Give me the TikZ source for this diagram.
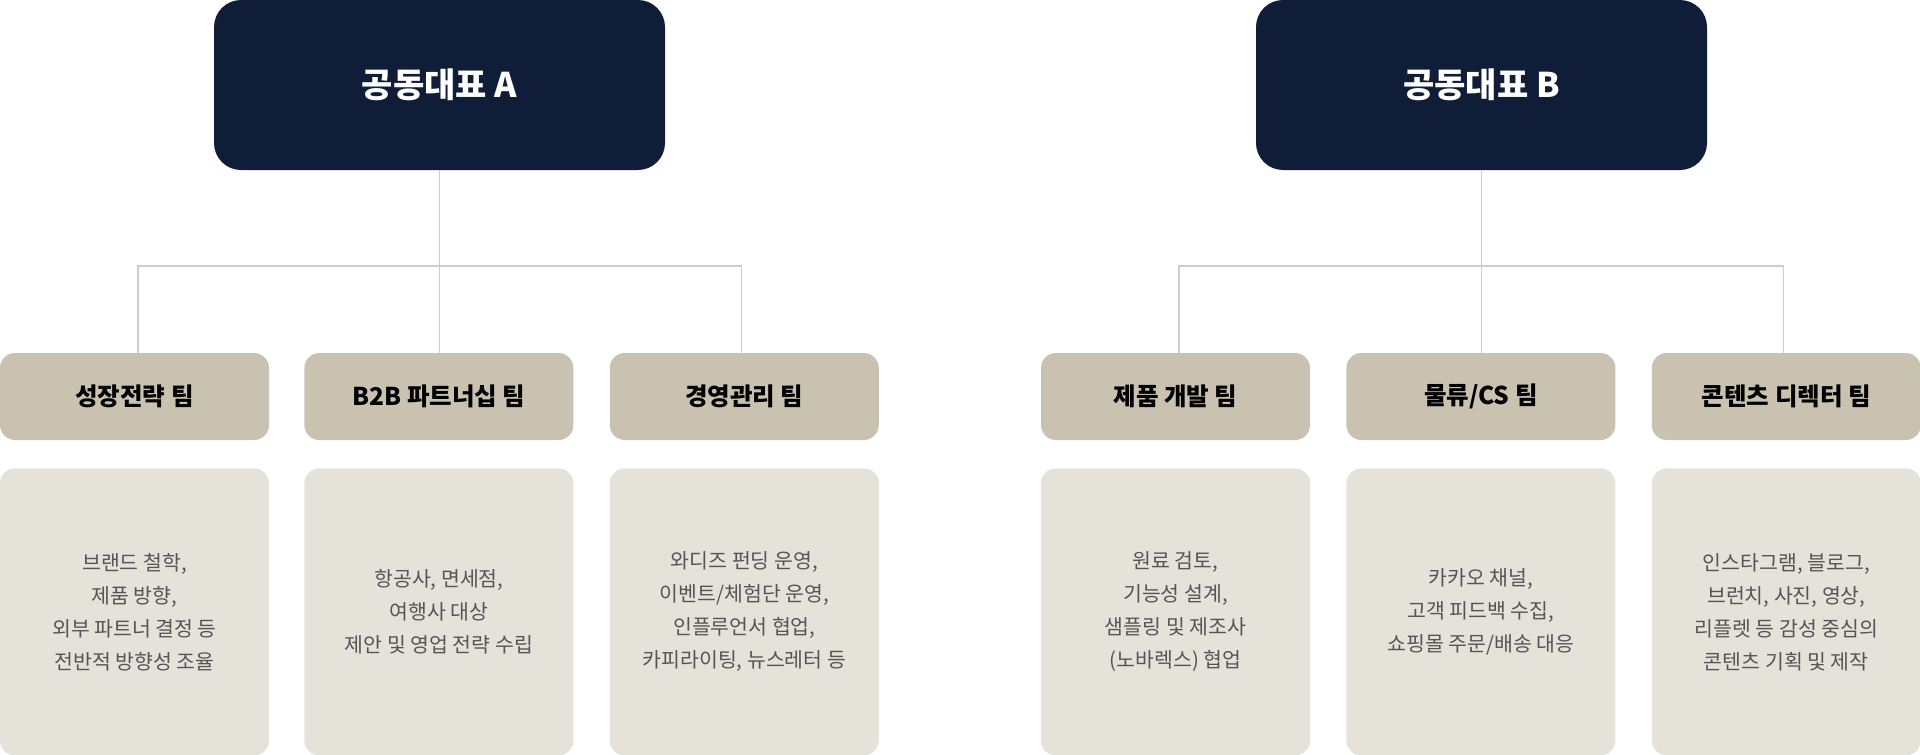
\documentclass[tikz,border=0pt]{standalone}
\usepackage{fontspec}
\setmainfont{Noto Sans CJK KR}
\usetikzlibrary{positioning}

\definecolor{navy}{HTML}{0F1D38}
\definecolor{teamfill}{HTML}{C9C2B1}
\definecolor{descfill}{HTML}{E5E2DA}
\definecolor{desctext}{HTML}{555555}
\definecolor{linegray}{HTML}{CCCCCC}

\begin{document}
\begin{tikzpicture}[x=1pt, y=1pt,
  head/.style={fill=navy, rounded corners=27pt, minimum width=451pt, minimum height=170pt, inner sep=0pt,
    text=white, font=\fontsize{34}{40}\selectfont\bfseries},
  team/.style={fill=teamfill, rounded corners=15pt, minimum width=269pt, minimum height=87pt, inner sep=0pt,
    font=\fontsize{24.5}{30}\selectfont\bfseries},
  desc/.style={fill=descfill, rounded corners=15pt, minimum width=269pt, minimum height=287pt, inner sep=0pt,
    align=center, text=desctext, font=\fontsize{20.5}{33}\selectfont},
  conn/.style={draw=linegray, line width=1.3pt}]
  \useasboundingbox (0,0) rectangle (1920,-755);

  % co-CEO A side
  \node[head] (ceoA) at (439.5,-85) {공동대표 A};
  \node[team] (growth) at (134.5,-396.5) {성장전략 팀};
  \node[team, right=35pt of growth] (btob) {B2B 파트너십 팀};
  \node[team, right=36pt of btob] (manage) {경영관리 팀};
  \node[desc, below=28pt of growth] (growthd) {브랜드 철학,\\제품 방향,\\외부 파트너 결정 등\\전반적 방향성 조율};
  \node[desc, below=28pt of btob] (btobd) {항공사, 면세점,\\여행사 대상\\제안 및 영업 전략 수립};
  \node[desc, below=28pt of manage] (manaed) {와디즈 펀딩 운영,\\이벤트/체험단 운영,\\인플루언서 협업,\\카피라이팅, 뉴스레터 등};
  \coordinate (busA) at (0,-266);

  % co-CEO B side
  \node[head] (ceoB) at (1481.5,-85) {공동대표 B};
  \node[team] (product) at (1175.5,-396.5) {제품 개발 팀};
  \node[team, right=36pt of product] (logis) {물류/CS 팀};
  \node[team, right=36pt of logis] (content) {콘텐츠 디렉터 팀};
  \node[desc, below=28pt of product] (productd) {원료 검토,\\기능성 설계,\\샘플링 및 제조사\\(노바렉스) 협업};
  \node[desc, below=28pt of logis] (logisd) {카카오 채널,\\고객 피드백 수집,\\쇼핑몰 주문/배송 대응};
  \node[desc, below=28pt of content] (contentd) {인스타그램, 블로그,\\브런치, 사진, 영상,\\리플렛 등 감성 중심의\\콘텐츠 기획 및 제작};
  \coordinate (busB) at (0,-266);

  % connectors
  \draw[conn] (ceoA.south) -- (ceoA.south |- btob.north);
  \draw[conn] ([xshift=3.5pt]growth.north) |- ([xshift=-2.5pt]manage.north |- busA) -- ([xshift=-2.5pt]manage.north);
  \draw[conn] (ceoB.south) -- (ceoB.south |- logis.north);
  \draw[conn] ([xshift=3.5pt]product.north) |- ([xshift=-2.5pt]content.north |- busB) -- ([xshift=-2.5pt]content.north);
\end{tikzpicture}
\end{document}
